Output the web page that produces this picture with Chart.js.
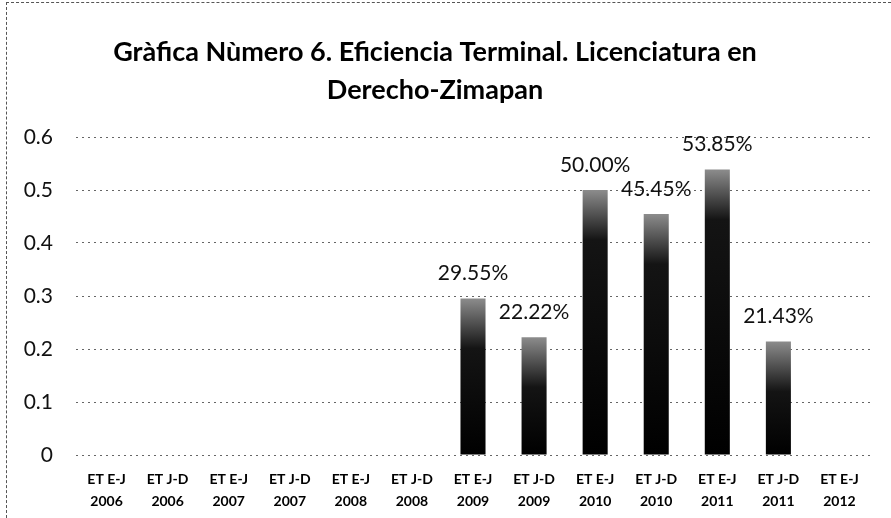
<!DOCTYPE html>
<html>
<head>
<meta charset="utf-8">
<script src="https://cdn.jsdelivr.net/npm/chart.js@4"></script>
<style>
    body { margin: 0; background: #fff; }
    .frame { position: relative; width: 891px; height: 518px; }
    .frame::before {
        content: "";
        position: absolute;
        left: 6px; top: 2px; right: 0; bottom: 0;
        border-left: 1px dashed #555;
        border-top: 1px dashed #555;
        pointer-events: none;
    }
</style>
</head>
<body>
<div class="frame">
    <canvas id="eficienciaChart" width="891" height="518"></canvas>
</div>
<script>
const periodos = ["ET E-J", "ET J-D", "ET E-J", "ET J-D", "ET E-J", "ET J-D", "ET E-J",
    "ET J-D", "ET E-J", "ET J-D", "ET E-J", "ET J-D", "ET E-J"];
const anios = ["2006", "2006", "2007", "2007", "2008", "2008", "2009",
    "2009", "2010", "2010", "2011", "2011", "2012"];
const eficiencia = [null, null, null, null, null, null, 0.2955,
    0.2222, 0.5, 0.4545, 0.5385, 0.2143, null];
const ticksY = [0, 0.1, 0.2, 0.3, 0.4, 0.5, 0.6];

const etiquetas = periodos.map((p, i) => [p, anios[i]]);

function formatPct(value) {
    return (value * 100).toFixed(2) + "%";
}

// degradado tipo cilindro: gris arriba, negro abajo
function colorBarra(ctx) {
    const chart = ctx.chart;
    const v = ctx.raw;
    if (v == null || !chart.chartArea) return "#000";
    const y = chart.scales.y;
    const top = y.getPixelForValue(v);
    const bottom = y.getPixelForValue(0);
    const g = chart.ctx.createLinearGradient(0, top, 0, bottom);
    const h = Math.max(bottom - top, 1);
    g.addColorStop(0, "#8c8c8c");
    g.addColorStop(Math.min(50 / h, 0.6), "#141414");
    g.addColorStop(1, "#000");
    return g;
}

const etiquetasDatos = {
    id: "etiquetasDatos",
    afterDatasetsDraw(chart) {
        const ctx = chart.ctx;
        const meta = chart.getDatasetMeta(0);
        ctx.save();
        ctx.font = "21px Lato";
        ctx.fillStyle = "#111";
        ctx.textAlign = "center";
        ctx.textBaseline = "middle";
        meta.data.forEach((bar, i) => {
            const v = eficiencia[i];
            if (v == null) return;
            ctx.fillText(formatPct(v), bar.x, bar.y - 25);
        });
        ctx.restore();
    }
};

new Chart(document.getElementById("eficienciaChart"), {
    type: "bar",
    data: {
        labels: etiquetas,
        datasets: [{
            data: eficiencia,
            backgroundColor: colorBarra,
            borderWidth: 0,
            barPercentage: 0.41,
            categoryPercentage: 1
        }]
    },
    options: {
        responsive: false,
        animation: false,
        layout: { padding: { left: 0, right: 21, top: 0, bottom: 0 } },
        plugins: {
            legend: { display: false },
            tooltip: { enabled: false },
            title: {
                display: true,
                text: ["Gràfica Nùmero 6. Eficiencia Terminal. Licenciatura en", "Derecho-Zimapan"],
                color: "#000",
                font: { family: "Lato", size: 27, weight: "bold", lineHeight: "38px" },
                padding: { top: 33, bottom: 28 }
            }
        },
        scales: {
            x: {
                grid: { display: false },
                border: { display: false },
                ticks: {
                    color: "#000",
                    font: { family: "Lato", size: 14, weight: "bold", lineHeight: "22px" },
                    padding: 5,
                    maxRotation: 0,
                    autoSkip: false
                },
                afterFit: scale => { scale.height = 63; }
            },
            y: {
                min: 0,
                max: 0.6,
                afterBuildTicks: scale => { scale.ticks = ticksY.map(v => ({ value: v })); },
                grid: {
                    color: "rgba(0,0,0,0.6)",
                    lineWidth: 1,
                    drawTicks: false
                },
                border: { display: false, dash: [2, 4] },
                ticks: {
                    color: "#111",
                    font: { family: "Lato", size: 21 },
                    padding: 23,
                    callback: value => value === 0 ? "0" : value.toFixed(1)
                },
                afterFit: scale => { scale.width = 76; }
            }
        }
    },
    plugins: [etiquetasDatos]
});
</script>
</body>
</html>
